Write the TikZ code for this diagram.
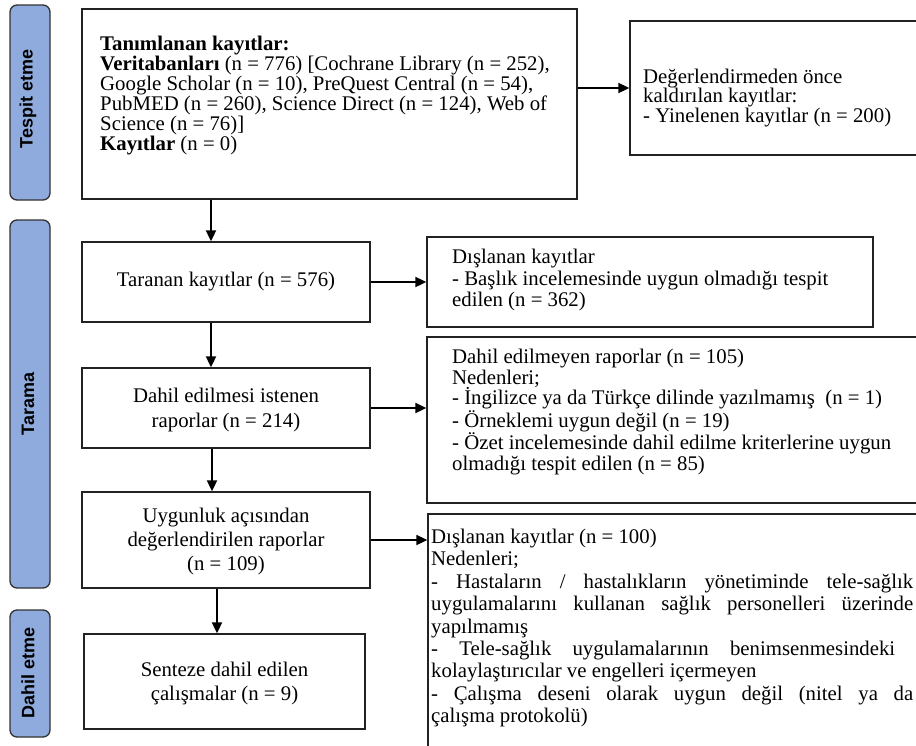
\documentclass[tikz,border=0pt]{standalone}
\usepackage{fontspec}
\setmainfont{Liberation Serif}
\newfontfamily\barfont{Liberation Sans}
\usetikzlibrary{arrows.meta}
\definecolor{barblue}{HTML}{8FAADC}
\definecolor{barline}{HTML}{333333}
\definecolor{boxline}{HTML}{222222}
\begin{document}
\begin{tikzpicture}[x=1pt,y=-1pt,
  box/.style={draw=boxline, line width=1.3pt, inner sep=0pt, fill=white},
  bar/.style={draw=barline, fill=barblue, line width=1.3pt, rounded corners=7pt,
    rotate=90, inner sep=0pt},
  barlabel/.style={rotate=90, inner sep=0pt, font=\barfont\bfseries\fontsize{18}{20}\selectfont},
  txt/.style={inner sep=0pt, align=left},
  ctxt/.style={inner sep=0pt, align=center},
  arr/.style={line width=1.8pt, draw=black, -{Triangle[length=11pt,width=10pt]}}
]
\useasboundingbox (0,0) rectangle (916,745);
\clip (0,0) rectangle (916,745);
\fill[white] (0,0) rectangle (916,745);

% side bars
\node[bar, minimum width=195pt, minimum height=40pt] (b1) at (30,102.5) {};
\node[bar, minimum width=368pt, minimum height=40pt] (b2) at (30,404) {};
\node[bar, minimum width=127pt, minimum height=40pt] (b3) at (30,673.5) {};
\node[barlabel] (l1) at (28,99) {Tespit etme};
\node[barlabel] (l2) at (28,404) {Tarama};
\node[barlabel] (l3) at (28,673) {Dahil etme};

% boxes
\node[box, minimum width=495pt, minimum height=190pt] (top) at (329.5,104) {};
\node[box, minimum width=310pt, minimum height=134pt] (tr) at (785,88) {};
\node[box, minimum width=288pt, minimum height=80pt] (tar) at (226,282) {};
\node[box, minimum width=446pt, minimum height=90pt] (dis1) at (650,282) {};
\node[box, minimum width=288pt, minimum height=80pt] (dahil) at (226,408) {};
\node[box, minimum width=513pt, minimum height=166pt] (dem) at (683.5,420) {};
\node[box, minimum width=288pt, minimum height=96pt] (uyg) at (226,540) {};
\node[box, minimum width=512pt, minimum height=256pt] (dis2) at (684,642) {};
\node[box, minimum width=281pt, minimum height=95pt] (sen) at (224.5,681.5) {};

% texts
\node[txt, anchor=west, font=\fontsize{20.8}{20}\selectfont] (ttop) at (100,96)
 {\textbf{Tanımlanan kayıtlar:}\\
  \textbf{Veritabanları} (n = 776) [Cochrane Library (n = 252),\\
  Google Scholar (n = 10), PreQuest Central (n = 54),\\
  PubMED (n = 260), Science Direct (n = 124), Web of\\
  Science (n = 76)]\\
  \textbf{Kayıtlar} (n = 0)};
\node[txt, anchor=west, font=\fontsize{20.8}{19.5}\selectfont] (ttr) at (643,98)
 {Değerlendirmeden önce\\ kaldırılan kayıtlar:\\ - Yinelenen kayıtlar (n = 200)};
\node[ctxt, font=\fontsize{20.8}{24}\selectfont] (ttar) at (tar.center) {Taranan kayıtlar (n = 576)};
\node[txt, anchor=west, font=\fontsize{20.8}{21.5}\selectfont] (tdis1) at (452,280)
 {Dışlanan kayıtlar\\ - Başlık incelemesinde uygun olmadığı tespit\\ edilen (n = 362)};
\node[ctxt, font=\fontsize{20.8}{25}\selectfont] (tdahil) at (226,409.5)
 {Dahil edilmesi istenen\\ raporlar (n = 214)};
\node[txt, anchor=west, font=\fontsize{20.8}{20.5}\selectfont] (tdem) at (452,412)
 {Dahil edilmeyen raporlar (n = 105)\\
  Nedenleri;\\
  - İngilizce ya da Türkçe dilinde yazılmamış~ (n = 1)\\
  - Örneklemi uygun değil (n = 19)\\
  - Özet incelemesinde dahil edilme kriterlerine uygun\\
  olmadığı tespit edilen (n = 85)};
\node[ctxt, font=\fontsize{20.8}{24}\selectfont] (tuyg) at (226,541)
 {Uygunluk açısından\\ değerlendirilen raporlar\\ (n = 109)};
\node[txt, anchor=west, font=\fontsize{20.8}{22.4}\selectfont] (tdis2) at (431,628)
 {Dışlanan kayıtlar (n = 100)\\
  Nedenleri;\\
  \makebox[482pt][s]{- Hastaların / hastalıkların yönetiminde tele-sağlık}\\
  \makebox[482pt][s]{uygulamalarını kullanan sağlık personelleri üzerinde}\\
  yapılmamış\\
  \makebox[464pt][s]{- Tele-sağlık uygulamalarının benimsenmesindeki}\\
  kolaylaştırıcılar ve engelleri içermeyen\\
  \makebox[482pt][s]{- Çalışma deseni olarak uygun değil (nitel ya da}\\
  çalışma protokolü)};
\node[ctxt, font=\fontsize{20.8}{23.5}\selectfont] (tsen) at (224.5,683.5)
 {Senteze dahil edilen\\ çalışmalar (n = 9)};

% arrows
\draw[arr] ([xshift=-15pt]tar.north |- top.south) -- ([xshift=-15pt]tar.north);
\draw[arr] (tr.west -| top.east) -- (tr.west);
\draw[arr] (tar.east) -- (dis1.west);
\draw[arr] ([xshift=-15pt]tar.south) -- ([xshift=-15pt]dahil.north);
\draw[arr] (dahil.east) -- (dahil.east -| dem.west);
\draw[arr] ([xshift=-14pt]dahil.south) -- ([xshift=-14pt]uyg.north);
\draw[arr] (uyg.east) -- (uyg.east -| dis2.west);
\draw[arr] ([xshift=-9pt]uyg.south) -- ([xshift=-9pt]uyg.south |- sen.north);
\end{tikzpicture}
\end{document}
